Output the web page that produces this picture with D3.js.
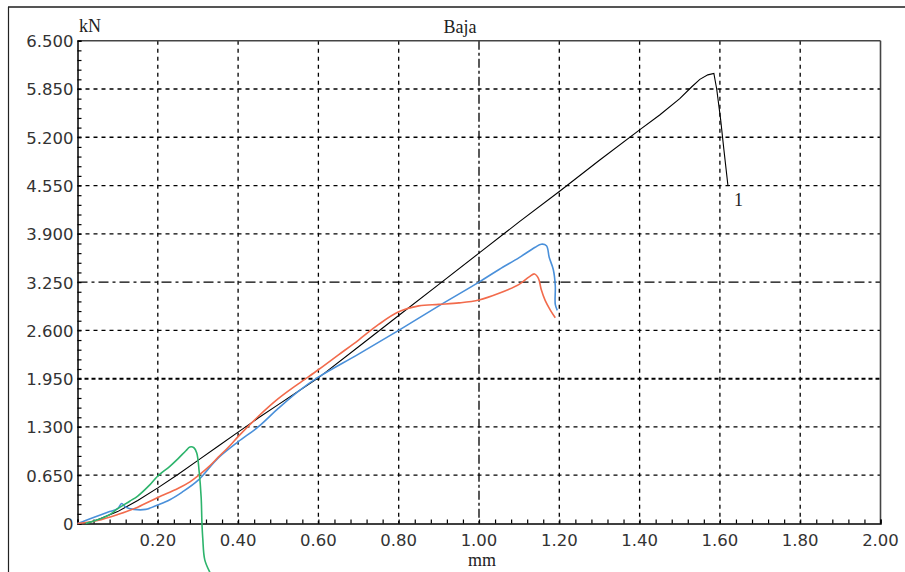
<!DOCTYPE html>
<html><head><meta charset="utf-8">
<script src="https://cdn.jsdelivr.net/npm/d3@7/dist/d3.min.js"></script>
<style>html,body{margin:0;padding:0;background:#fff;}svg{display:block;}</style>
</head><body>
<svg id="c" width="905" height="572"></svg>
<script>
// ---- data ----
const xTicks = [0.2,0.4,0.6,0.8,1.0,1.2,1.4,1.6,1.8,2.0];
const yTicks = [0,0.65,1.3,1.95,2.6,3.25,3.9,4.55,5.2,5.85,6.5];
const seriesNames = ["1","blue","red","green"];
const blackData = [[0.02,0],[0.05,0.05],[0.1,0.16],[0.15,0.31],[0.2,0.48],[0.25,0.66],[0.3,0.85],[0.35,1.04],[0.4,1.23],[0.45,1.42],[0.5,1.6],[0.55,1.78],[0.6,1.96],[0.7,2.38],[0.8,2.8],[0.9,3.22],[1.0,3.64],[1.1,4.06],[1.2,4.47],[1.3,4.89],[1.4,5.3],[1.45,5.5],[1.5,5.72],[1.53,5.88],[1.55,5.98],[1.57,6.04],[1.585,6.06],[1.592,5.85],[1.602,5.43],[1.61,5.03],[1.62,4.55],[1.625,4.55]];
const blueData = [[0,0],[0.02,0.04],[0.05,0.1],[0.08,0.16],[0.1,0.2],[0.11,0.27],[0.12,0.22],[0.14,0.19],[0.17,0.19],[0.2,0.25],[0.23,0.32],[0.26,0.42],[0.3,0.58],[0.35,0.88],[0.4,1.1],[0.45,1.3],[0.5,1.55],[0.55,1.78],[0.6,1.97],[0.7,2.28],[0.8,2.6],[0.9,2.93],[1.0,3.25],[1.05,3.42],[1.1,3.58],[1.14,3.72],[1.155,3.76],[1.168,3.74],[1.175,3.58],[1.185,3.42],[1.19,3.2],[1.19,2.95],[1.195,2.87]];
const redData = [[0,0],[0.05,0.04],[0.1,0.12],[0.15,0.22],[0.2,0.35],[0.25,0.47],[0.28,0.56],[0.3,0.64],[0.33,0.78],[0.35,0.89],[0.38,1.05],[0.4,1.17],[0.45,1.44],[0.5,1.68],[0.55,1.88],[0.6,2.07],[0.65,2.27],[0.7,2.47],[0.75,2.68],[0.8,2.85],[0.85,2.93],[0.9,2.95],[0.95,2.97],[1.0,3.01],[1.05,3.1],[1.1,3.22],[1.125,3.32],[1.138,3.36],[1.148,3.3],[1.155,3.15],[1.165,3.0],[1.178,2.87],[1.19,2.77]];
const greenData = [[0.02,0],[0.05,0.05],[0.08,0.12],[0.1,0.2],[0.13,0.3],[0.15,0.37],[0.18,0.52],[0.2,0.64],[0.23,0.77],[0.25,0.87],[0.27,0.98],[0.28,1.03],[0.29,1.02],[0.297,0.95],[0.303,0.7],[0.308,0.35],[0.31,0],[0.312,-0.2],[0.317,-0.49],[0.33,-0.66]];

// ---- layout ----
const svg = d3.select("#c");
const L = 77.5, R = 880.5, T = 40.7, B = 523.5;
const x = d3.scaleLinear().domain([0,2]).range([L,R]);
const y = d3.scaleLinear().domain([0,6.5]).range([B,T]);

// outer frame
svg.append("line").attr("x1",8).attr("x2",905).attr("y1",7).attr("y2",7).attr("stroke","#555").attr("stroke-width",2);
svg.append("line").attr("x1",8.5).attr("x2",8.5).attr("y1",7).attr("y2",572).attr("stroke","#222").attr("stroke-width",1.2);

// grid
const g = svg.append("g");
xTicks.filter(v=>v<2).forEach(v=>{
  g.append("line").attr("x1",x(v)).attr("x2",x(v)).attr("y1",T).attr("y2",B)
   .attr("stroke","#000").attr("stroke-width", 1.3)
   .attr("stroke-dasharray", v===1.0 ? "9,3,3,3" : "4,4");
});
yTicks.filter(v=>v>0 && v<6.5).forEach(v=>{
  g.append("line").attr("x1",L).attr("x2",R).attr("y1",y(v)).attr("y2",y(v))
   .attr("stroke","#000")
   .attr("stroke-width", v===1.95 ? 2 : 1.3)
   .attr("stroke-dasharray", v===1.95 ? "4,3" : (v===3.25 ? "10,4,3,4" : "4,4"));
});

// plot box
svg.append("line").attr("x1",L).attr("x2",R).attr("y1",T).attr("y2",T).attr("stroke","#444").attr("stroke-width",1.6);
svg.append("line").attr("x1",R).attr("x2",R).attr("y1",T).attr("y2",B).attr("stroke","#444").attr("stroke-width",1.6);

// axes
const xAxis = d3.axisBottom(x).tickValues(d3.range(0,2.0001,0.04)).tickSize(-4).tickFormat("");
const xa = svg.append("g").attr("transform",`translate(0,${B})`).call(xAxis);
xa.select(".domain").attr("stroke","#000").attr("stroke-width",1.5);
xa.selectAll(".tick line").attr("stroke","#000").attr("stroke-width",1.2);
const yAxis = d3.axisLeft(y).tickValues(d3.range(0,6.5001,0.13)).tickSize(-4).tickFormat("");
const ya = svg.append("g").attr("transform",`translate(${L},0)`).call(yAxis);
ya.select(".domain").attr("stroke","#000").attr("stroke-width",1.5);
ya.selectAll(".tick line").attr("stroke","#000").attr("stroke-width",1.2);

// tick labels
const lab = svg.append("g").attr("font-family","DejaVu Sans, sans-serif").attr("font-size",16.5).attr("fill","#333");
yTicks.forEach(v=>{
  lab.append("text").attr("x",L-4).attr("y",y(v)+2).attr("text-anchor","end").attr("dominant-baseline","middle")
    .text(v===0 ? "0" : d3.format(".3f")(v));
});
xTicks.forEach(v=>{
  lab.append("text").attr("x",x(v)).attr("y",B+18).attr("text-anchor","middle").attr("dominant-baseline","middle")
    .text(d3.format(".2f")(v));
});

// titles
const serif = "Liberation Serif, Times New Roman, serif";
svg.append("text").attr("x",79).attr("y",32).attr("font-family",serif).attr("font-size",18).attr("fill","#222").text("kN");
svg.append("text").attr("x",460).attr("y",33).attr("text-anchor","middle").attr("font-family",serif).attr("font-size",18).attr("fill","#222").text("Baja");
svg.append("text").attr("x",482).attr("y",566).attr("text-anchor","middle").attr("font-family",serif).attr("font-size",18).attr("fill","#222").text("mm");

// series
const line = d3.line().x(d=>x(d[0])).y(d=>y(d[1]));
const smooth = d3.line().x(d=>x(d[0])).y(d=>y(d[1])).curve(d3.curveCatmullRom.alpha(0.5));
const series = [
  {data: blackData, color:"#000", gen: line, w:1.1},
  {data: blueData, color:"#4a90da", gen: smooth, w:1.6},
  {data: redData, color:"#f26b4c", gen: smooth, w:1.6},
  {data: greenData, color:"#2db46c", gen: smooth, w:1.6}
];
series.forEach(s=>{
  svg.append("path").attr("d", s.gen(s.data)).attr("fill","none").attr("stroke",s.color).attr("stroke-width",s.w);
});
const last = blackData[blackData.length-1];
svg.append("text").attr("x",x(last[0])+4).attr("y",y(last[1])+20).attr("font-family",serif).attr("font-size",18).attr("fill","#222").text(seriesNames[0]);
</script>
</body></html>
